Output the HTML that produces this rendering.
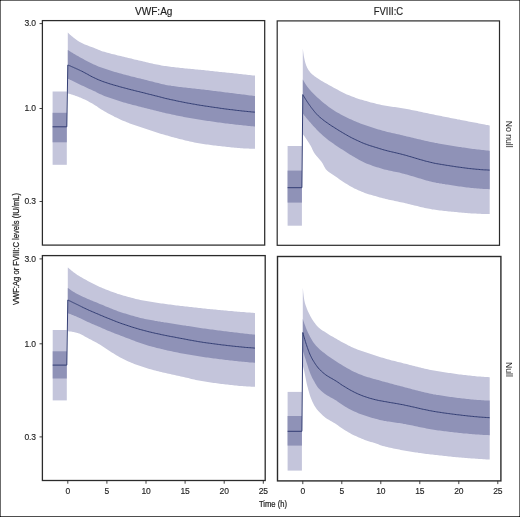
<!DOCTYPE html>
<html lang="en">
<head>
<meta charset="utf-8">
<title>VWF:Ag and FVIII:C levels over time</title>
<style>
html,body{margin:0;padding:0;background:#fff;}
body{width:520px;height:517px;overflow:hidden;}
#fig{position:relative;width:520px;height:517px;background:#fff;overflow:hidden;}
#fig svg{position:absolute;left:0;top:0;display:block;will-change:transform;}
text{font-family:"Liberation Sans",sans-serif;fill:#232323;stroke:#232323;stroke-width:0.22px;}
.tk{font-size:8.5px;stroke-width:0.14px;letter-spacing:-0.14px;}
.ti{font-size:10px;stroke-width:0.16px;}
.st{font-size:8.7px;stroke:none;}
.ax{font-size:10px;stroke-width:0.25px;}
.ay{font-size:9.6px;}
</style>
</head>
<body>
<div id="fig">
<svg width="520" height="517" viewBox="0 0 520 517">
<g>
<rect x="52.6" y="91.5" width="14.2" height="73.3" fill="#c4c5db"/>
<rect x="52.6" y="112.8" width="14.2" height="29.5" fill="#8f92b7"/>
<polygon fill="#c4c5db" points="67.8,32.6 68.3,33.1 68.8,33.5 69.3,34 69.8,34.4 70.3,34.9 70.8,35.3 71.3,35.7 71.8,36.2 72.3,36.6 72.8,37 73.3,37.4 73.8,37.8 74.3,38.2 74.8,38.6 75.3,39 75.8,39.3 76.3,39.7 76.8,40 77.3,40.4 77.8,40.7 78.3,41 78.8,41.4 79.3,41.7 79.8,42 80.3,42.3 80.8,42.5 81.3,42.8 81.8,43.1 83.3,43.8 84.8,44.4 86.3,45.1 87.8,45.6 89.3,46.2 90.8,46.7 92.3,47.3 93.8,47.8 95.3,48.4 96.8,49 98.3,49.7 99.8,50.3 101.3,50.9 102.8,51.4 104.3,51.8 105.8,52.3 107.3,52.7 108.8,53.1 110.3,53.5 111.8,53.9 113.3,54.3 114.8,54.6 116.3,55 117.8,55.4 119.3,55.7 120.8,56.1 122.3,56.4 123.8,56.8 125.3,57.2 126.8,57.5 128.3,57.9 129.8,58.3 131.3,58.6 132.8,59 134.3,59.4 135.8,59.7 137.3,60.1 138.8,60.4 140.3,60.8 141.8,61.1 143.3,61.5 144.8,61.8 146.3,62.2 147.8,62.5 149.3,62.9 150.8,63.2 152.3,63.6 153.8,63.9 155.3,64.2 156.8,64.5 158.3,64.8 159.8,65.1 161.3,65.4 162.8,65.7 164.3,65.9 165.8,66.1 167.3,66.3 168.8,66.5 170.3,66.7 171.8,66.9 173.3,67.1 174.8,67.2 176.3,67.4 177.8,67.6 179.3,67.7 180.8,67.9 182.3,68.1 183.8,68.2 185.3,68.4 186.8,68.5 188.3,68.7 189.8,68.8 191.3,68.9 192.8,69.1 194.3,69.2 195.8,69.4 197.3,69.5 198.8,69.7 200.3,69.8 201.8,70 203.3,70.1 204.8,70.3 206.3,70.4 207.8,70.6 209.3,70.8 210.8,70.9 212.3,71.1 213.8,71.2 215.3,71.4 216.8,71.6 218.3,71.7 219.8,71.9 221.3,72 222.8,72.2 224.3,72.3 225.8,72.5 227.3,72.7 228.8,72.8 230.3,73 231.8,73.1 233.3,73.3 234.8,73.5 236.3,73.6 237.8,73.8 239.3,73.9 240.8,74.1 242.3,74.3 243.8,74.4 245.3,74.6 246.8,74.7 248.3,74.9 249.8,75 251.3,75.2 252.8,75.4 254.3,75.5 255,75.6 255,148.8 254.3,148.8 252.8,148.8 251.3,148.7 249.8,148.7 248.3,148.6 246.8,148.5 245.3,148.5 243.8,148.4 242.3,148.3 240.8,148.2 239.3,148.1 237.8,147.9 236.3,147.8 234.8,147.7 233.3,147.6 231.8,147.4 230.3,147.3 228.8,147.1 227.3,147 225.8,146.8 224.3,146.6 222.8,146.5 221.3,146.3 219.8,146.1 218.3,145.9 216.8,145.7 215.3,145.5 213.8,145.4 212.3,145.2 210.8,145 209.3,144.8 207.8,144.6 206.3,144.4 204.8,144.2 203.3,144 201.8,143.7 200.3,143.5 198.8,143.2 197.3,143 195.8,142.7 194.3,142.4 192.8,142.1 191.3,141.7 189.8,141.4 188.3,141.1 186.8,140.7 185.3,140.4 183.8,140 182.3,139.6 180.8,139.2 179.3,138.9 177.8,138.5 176.3,138.1 174.8,137.7 173.3,137.3 171.8,136.9 170.3,136.5 168.8,136.1 167.3,135.6 165.8,135.2 164.3,134.8 162.8,134.3 161.3,133.9 159.8,133.4 158.3,132.9 156.8,132.4 155.3,132 153.8,131.5 152.3,131 150.8,130.5 149.3,130 147.8,129.5 146.3,129 144.8,128.5 143.3,128 141.8,127.5 140.3,127 138.8,126.5 137.3,126 135.8,125.5 134.3,125 132.8,124.4 131.3,123.9 129.8,123.4 128.3,122.8 126.8,122.2 125.3,121.6 123.8,121 122.3,120.4 120.8,119.7 119.3,119 117.8,118.3 116.3,117.6 114.8,116.9 113.3,116.1 111.8,115.3 110.3,114.5 108.8,113.7 107.3,112.9 105.8,112 104.3,111.2 102.8,110.3 101.3,109.4 99.8,108.4 98.3,107.4 96.8,106.3 95.3,105.4 93.8,104.5 92.3,103.6 90.8,102.8 89.3,101.9 87.8,101.1 86.3,100.3 84.8,99.6 83.3,98.9 81.8,98.2 81.3,98 80.8,97.8 80.3,97.6 79.8,97.4 79.3,97.2 78.8,97 78.3,96.8 77.8,96.6 77.3,96.4 76.8,96.2 76.3,96 75.8,95.9 75.3,95.7 74.8,95.5 74.3,95.3 73.8,95.2 73.3,95 72.8,94.8 72.3,94.7 71.8,94.5 71.3,94.4 70.8,94.2 70.3,94.1 69.8,93.9 69.3,93.8 68.8,93.7 68.3,93.5 67.8,93.4"/>
<polygon fill="#8f92b7" points="67.8,50 68.3,50.3 68.8,50.6 69.3,50.9 69.8,51.3 70.3,51.6 70.8,51.9 71.3,52.2 71.8,52.5 72.3,52.8 72.8,53.1 73.3,53.4 73.8,53.7 74.3,54 74.8,54.3 75.3,54.6 75.8,54.9 76.3,55.2 76.8,55.5 77.3,55.8 77.8,56 78.3,56.3 78.8,56.6 79.3,56.9 79.8,57.2 80.3,57.4 80.8,57.7 81.3,58 81.8,58.3 83.3,59.1 84.8,59.9 86.3,60.7 87.8,61.5 89.3,62.3 90.8,63 92.3,63.8 93.8,64.5 95.3,65.1 96.8,65.8 98.3,66.4 99.8,67 101.3,67.5 102.8,68.1 104.3,68.6 105.8,69.1 107.3,69.6 108.8,70.1 110.3,70.5 111.8,71 113.3,71.4 114.8,71.9 116.3,72.3 117.8,72.7 119.3,73.2 120.8,73.6 122.3,74 123.8,74.4 125.3,74.8 126.8,75.2 128.3,75.6 129.8,76 131.3,76.4 132.8,76.7 134.3,77.1 135.8,77.5 137.3,77.9 138.8,78.2 140.3,78.6 141.8,79 143.3,79.3 144.8,79.7 146.3,80.1 147.8,80.5 149.3,80.9 150.8,81.3 152.3,81.6 153.8,82 155.3,82.4 156.8,82.8 158.3,83.1 159.8,83.5 161.3,83.9 162.8,84.2 164.3,84.6 165.8,84.9 167.3,85.2 168.8,85.4 170.3,85.6 171.8,85.9 173.3,86.1 174.8,86.3 176.3,86.5 177.8,86.7 179.3,86.9 180.8,87.1 182.3,87.2 183.8,87.4 185.3,87.6 186.8,87.8 188.3,87.9 189.8,88.1 191.3,88.3 192.8,88.4 194.3,88.6 195.8,88.7 197.3,88.9 198.8,89.1 200.3,89.2 201.8,89.4 203.3,89.6 204.8,89.8 206.3,90 207.8,90.1 209.3,90.3 210.8,90.5 212.3,90.7 213.8,90.9 215.3,91.1 216.8,91.3 218.3,91.5 219.8,91.6 221.3,91.8 222.8,92 224.3,92.2 225.8,92.4 227.3,92.6 228.8,92.8 230.3,92.9 231.8,93.1 233.3,93.3 234.8,93.5 236.3,93.7 237.8,93.9 239.3,94.1 240.8,94.2 242.3,94.4 243.8,94.6 245.3,94.8 246.8,95 248.3,95.2 249.8,95.4 251.3,95.5 252.8,95.7 254.3,95.9 255,96 255,126.5 254.3,126.4 252.8,126.3 251.3,126.2 249.8,126 248.3,125.9 246.8,125.8 245.3,125.6 243.8,125.5 242.3,125.3 240.8,125.1 239.3,125 237.8,124.8 236.3,124.7 234.8,124.5 233.3,124.3 231.8,124.1 230.3,123.9 228.8,123.8 227.3,123.6 225.8,123.4 224.3,123.2 222.8,123 221.3,122.8 219.8,122.6 218.3,122.4 216.8,122.2 215.3,122 213.8,121.8 212.3,121.6 210.8,121.3 209.3,121.1 207.8,120.9 206.3,120.7 204.8,120.5 203.3,120.2 201.8,120 200.3,119.8 198.8,119.5 197.3,119.3 195.8,119 194.3,118.8 192.8,118.5 191.3,118.3 189.8,118 188.3,117.7 186.8,117.4 185.3,117.2 183.8,116.9 182.3,116.6 180.8,116.3 179.3,116 177.8,115.7 176.3,115.4 174.8,115.1 173.3,114.8 171.8,114.5 170.3,114.1 168.8,113.8 167.3,113.5 165.8,113.2 164.3,112.8 162.8,112.5 161.3,112.1 159.8,111.7 158.3,111.3 156.8,111 155.3,110.6 153.8,110.2 152.3,109.8 150.8,109.5 149.3,109.1 147.8,108.7 146.3,108.3 144.8,107.9 143.3,107.5 141.8,107.2 140.3,106.8 138.8,106.4 137.3,106 135.8,105.6 134.3,105.3 132.8,104.9 131.3,104.5 129.8,104.1 128.3,103.7 126.8,103.3 125.3,102.8 123.8,102.4 122.3,102 120.8,101.5 119.3,101 117.8,100.6 116.3,100.1 114.8,99.6 113.3,99.1 111.8,98.6 110.3,98.1 108.8,97.6 107.3,97 105.8,96.5 104.3,95.9 102.8,95.3 101.3,94.6 99.8,93.9 98.3,93.2 96.8,92.4 95.3,91.6 93.8,90.9 92.3,90.2 90.8,89.6 89.3,88.9 87.8,88.2 86.3,87.5 84.8,86.8 83.3,86.1 81.8,85.4 81.3,85.2 80.8,85 80.3,84.7 79.8,84.5 79.3,84.2 78.8,84 78.3,83.8 77.8,83.5 77.3,83.3 76.8,83 76.3,82.8 75.8,82.6 75.3,82.3 74.8,82.1 74.3,81.8 73.8,81.6 73.3,81.3 72.8,81.1 72.3,80.8 71.8,80.6 71.3,80.3 70.8,80.1 70.3,79.9 69.8,79.6 69.3,79.4 68.8,79.1 68.3,78.9 67.8,78.6"/>
<polyline fill="none" stroke="#323d73" stroke-width="1.0" stroke-linejoin="round" points="52.6,126.8 66.8,126.8 67.8,65 68.3,65.2 68.8,65.4 69.3,65.6 69.8,65.8 70.3,66 70.8,66.2 71.3,66.5 71.8,66.7 72.3,66.9 72.8,67.1 73.3,67.3 73.8,67.5 74.3,67.8 74.8,68 75.3,68.2 75.8,68.4 76.3,68.7 76.8,68.9 77.3,69.1 77.8,69.3 78.3,69.6 78.8,69.8 79.3,70 79.8,70.3 80.3,70.5 80.8,70.8 81.3,71 81.8,71.2 83.3,72 84.8,72.8 86.3,73.6 87.8,74.4 89.3,75.3 90.8,76.1 92.3,76.9 93.8,77.6 95.3,78.3 96.8,79 98.3,79.7 99.8,80.3 101.3,80.9 102.8,81.5 104.3,82 105.8,82.5 107.3,83 108.8,83.5 110.3,84 111.8,84.4 113.3,84.9 114.8,85.3 116.3,85.7 117.8,86.1 119.3,86.6 120.8,87 122.3,87.4 123.8,87.8 125.3,88.2 126.8,88.6 128.3,89 129.8,89.4 131.3,89.8 132.8,90.1 134.3,90.5 135.8,90.9 137.3,91.3 138.8,91.6 140.3,92 141.8,92.4 143.3,92.7 144.8,93.1 146.3,93.5 147.8,93.9 149.3,94.3 150.8,94.6 152.3,95 153.8,95.4 155.3,95.8 156.8,96.1 158.3,96.5 159.8,96.9 161.3,97.3 162.8,97.7 164.3,98.1 165.8,98.5 167.3,98.8 168.8,99.1 170.3,99.5 171.8,99.8 173.3,100.1 174.8,100.4 176.3,100.8 177.8,101.1 179.3,101.4 180.8,101.7 182.3,102 183.8,102.3 185.3,102.6 186.8,102.9 188.3,103.2 189.8,103.4 191.3,103.7 192.8,104 194.3,104.2 195.8,104.5 197.3,104.8 198.8,105 200.3,105.3 201.8,105.5 203.3,105.7 204.8,106 206.3,106.2 207.8,106.4 209.3,106.6 210.8,106.9 212.3,107.1 213.8,107.3 215.3,107.5 216.8,107.7 218.3,107.9 219.8,108.2 221.3,108.4 222.8,108.6 224.3,108.8 225.8,109 227.3,109.2 228.8,109.4 230.3,109.6 231.8,109.7 233.3,109.9 234.8,110.1 236.3,110.3 237.8,110.5 239.3,110.6 240.8,110.8 242.3,111 243.8,111.1 245.3,111.3 246.8,111.4 248.3,111.6 249.8,111.7 251.3,111.9 252.8,112 254.3,112.1 255,112.2"/>
<rect x="42.4" y="20.6" width="222.3" height="224.5" fill="none" stroke="#2b2b2b" stroke-width="1.25"/>
</g>
<g>
<rect x="287.6" y="146" width="14.3" height="79.7" fill="#c4c5db"/>
<rect x="287.6" y="170.6" width="14.3" height="32" fill="#8f92b7"/>
<polygon fill="#c4c5db" points="302.8,48.5 303.3,52.4 303.8,55.9 304.3,58.6 304.8,60.8 305.3,62.7 305.8,64.3 306.3,65.7 306.8,66.8 307.3,67.9 307.8,68.8 308.3,69.7 308.8,70.4 309.3,71.1 309.8,71.8 310.3,72.4 310.8,72.9 311.3,73.4 311.8,73.9 312.3,74.4 312.8,74.8 313.3,75.3 313.8,75.6 314.3,76 314.8,76.4 315.3,76.8 315.8,77.1 316.3,77.5 316.8,77.8 318.3,78.8 319.8,79.8 321.3,80.7 322.8,81.6 324.3,82.4 325.8,83.3 327.3,84.1 328.8,85 330.3,85.8 331.8,86.6 333.3,87.4 334.8,88.2 336.3,89 337.8,89.8 339.3,90.7 340.8,91.5 342.3,92.3 343.8,93 345.3,93.7 346.8,94.4 348.3,95 349.8,95.6 351.3,96.2 352.8,96.8 354.3,97.3 355.8,97.9 357.3,98.4 358.8,98.9 360.3,99.4 361.8,99.8 363.3,100.3 364.8,100.7 366.3,101.1 367.8,101.6 369.3,102 370.8,102.4 372.3,102.8 373.8,103.1 375.3,103.5 376.8,103.9 378.3,104.2 379.8,104.6 381.3,104.9 382.8,105.3 384.3,105.6 385.8,105.8 387.3,106.1 388.8,106.3 390.3,106.5 391.8,106.7 393.3,106.9 394.8,107.1 396.3,107.3 397.8,107.5 399.3,107.7 400.8,107.9 402.3,108.2 403.8,108.4 405.3,108.7 406.8,109 408.3,109.3 409.8,109.6 411.3,109.9 412.8,110.2 414.3,110.5 415.8,110.8 417.3,111.1 418.8,111.4 420.3,111.7 421.8,112.1 423.3,112.4 424.8,112.7 426.3,113 427.8,113.3 429.3,113.7 430.8,114 432.3,114.3 433.8,114.6 435.3,114.9 436.8,115.2 438.3,115.5 439.8,115.8 441.3,116.1 442.8,116.4 444.3,116.7 445.8,117 447.3,117.3 448.8,117.6 450.3,117.9 451.8,118.2 453.3,118.5 454.8,118.8 456.3,119.1 457.8,119.4 459.3,119.6 460.8,119.9 462.3,120.2 463.8,120.5 465.3,120.8 466.8,121.1 468.3,121.4 469.8,121.7 471.3,122 472.8,122.3 474.3,122.6 475.8,122.8 477.3,123.1 478.8,123.4 480.3,123.7 481.8,124 483.3,124.3 484.8,124.6 486.3,124.9 487.8,125.1 489.3,125.4 489.7,125.5 489.7,214 489.3,214 487.8,214 486.3,214 484.8,214 483.3,213.9 481.8,213.9 480.3,213.8 478.8,213.8 477.3,213.7 475.8,213.6 474.3,213.5 472.8,213.5 471.3,213.4 469.8,213.3 468.3,213.2 466.8,213.1 465.3,212.9 463.8,212.8 462.3,212.7 460.8,212.6 459.3,212.4 457.8,212.3 456.3,212.1 454.8,212 453.3,211.8 451.8,211.7 450.3,211.5 448.8,211.4 447.3,211.2 445.8,211 444.3,210.9 442.8,210.7 441.3,210.5 439.8,210.4 438.3,210.2 436.8,210 435.3,209.8 433.8,209.6 432.3,209.4 430.8,209.1 429.3,208.8 427.8,208.5 426.3,208.2 424.8,207.9 423.3,207.6 421.8,207.2 420.3,206.9 418.8,206.5 417.3,206.1 415.8,205.8 414.3,205.4 412.8,205 411.3,204.7 409.8,204.3 408.3,203.9 406.8,203.6 405.3,203.2 403.8,202.8 402.3,202.5 400.8,202.2 399.3,201.9 397.8,201.5 396.3,201.2 394.8,200.9 393.3,200.6 391.8,200.3 390.3,200 388.8,199.7 387.3,199.3 385.8,199 384.3,198.6 382.8,198.2 381.3,197.8 379.8,197.4 378.3,197 376.8,196.5 375.3,196.1 373.8,195.7 372.3,195.2 370.8,194.8 369.3,194.4 367.8,193.9 366.3,193.4 364.8,192.9 363.3,192.3 361.8,191.8 360.3,191.1 358.8,190.5 357.3,189.8 355.8,189.1 354.3,188.4 352.8,187.6 351.3,186.8 349.8,185.9 348.3,185 346.8,184.1 345.3,183.2 343.8,182.2 342.3,181.2 340.8,180.2 339.3,179.2 337.8,178.1 336.3,177 334.8,176 333.3,174.9 331.8,173.9 330.3,172.9 328.8,171.9 327.3,170.8 325.8,169.3 324.3,166.8 322.8,163.8 321.3,161.6 319.8,159.8 318.3,158 316.8,156.3 316.3,155.7 315.8,155.1 315.3,154.5 314.8,153.8 314.3,153 313.8,152.2 313.3,151.3 312.8,150.3 312.3,149.2 311.8,148.1 311.3,147.1 310.8,146.1 310.3,145.3 309.8,144.4 309.3,143.6 308.8,142.8 308.3,142 307.8,141.2 307.3,140.5 306.8,139.7 306.3,139 305.8,138.2 305.3,137.5 304.8,136.8 304.3,136.1 303.8,135.4 303.3,134.7 302.8,134"/>
<polygon fill="#8f92b7" points="302.8,79.4 303.3,80.3 303.8,81.2 304.3,82.1 304.8,82.9 305.3,83.7 305.8,84.5 306.3,85.3 306.8,86 307.3,86.7 307.8,87.3 308.3,88 308.8,88.6 309.3,89.2 309.8,89.8 310.3,90.3 310.8,90.9 311.3,91.5 311.8,92 312.3,92.5 312.8,93 313.3,93.6 313.8,94.1 314.3,94.6 314.8,95.1 315.3,95.5 315.8,96 316.3,96.5 316.8,96.9 318.3,98.3 319.8,99.6 321.3,100.9 322.8,102.2 324.3,103.4 325.8,104.6 327.3,105.8 328.8,106.9 330.3,108 331.8,109.1 333.3,110.1 334.8,111 336.3,111.9 337.8,112.8 339.3,113.6 340.8,114.4 342.3,115.2 343.8,116 345.3,116.8 346.8,117.5 348.3,118.2 349.8,118.9 351.3,119.6 352.8,120.3 354.3,120.9 355.8,121.6 357.3,122.2 358.8,122.8 360.3,123.4 361.8,124 363.3,124.5 364.8,125.1 366.3,125.6 367.8,126.1 369.3,126.6 370.8,127.1 372.3,127.6 373.8,128 375.3,128.5 376.8,128.9 378.3,129.4 379.8,129.8 381.3,130.3 382.8,130.7 384.3,131.1 385.8,131.5 387.3,131.9 388.8,132.2 390.3,132.6 391.8,132.9 393.3,133.3 394.8,133.6 396.3,134 397.8,134.3 399.3,134.6 400.8,135 402.3,135.3 403.8,135.7 405.3,136 406.8,136.4 408.3,136.8 409.8,137.1 411.3,137.5 412.8,137.8 414.3,138.2 415.8,138.6 417.3,138.9 418.8,139.3 420.3,139.6 421.8,140 423.3,140.3 424.8,140.7 426.3,141 427.8,141.3 429.3,141.7 430.8,142 432.3,142.3 433.8,142.6 435.3,142.9 436.8,143.1 438.3,143.4 439.8,143.7 441.3,143.9 442.8,144.2 444.3,144.5 445.8,144.7 447.3,145 448.8,145.2 450.3,145.5 451.8,145.7 453.3,146 454.8,146.2 456.3,146.4 457.8,146.7 459.3,146.9 460.8,147.1 462.3,147.4 463.8,147.6 465.3,147.8 466.8,148 468.3,148.2 469.8,148.4 471.3,148.7 472.8,148.9 474.3,149 475.8,149.2 477.3,149.4 478.8,149.6 480.3,149.8 481.8,150 483.3,150.1 484.8,150.3 486.3,150.5 487.8,150.6 489.3,150.8 489.7,150.8 489.7,189.2 489.3,189.2 487.8,189.1 486.3,189.1 484.8,189 483.3,188.9 481.8,188.8 480.3,188.7 478.8,188.6 477.3,188.5 475.8,188.3 474.3,188.2 472.8,188 471.3,187.9 469.8,187.7 468.3,187.6 466.8,187.4 465.3,187.2 463.8,187 462.3,186.8 460.8,186.6 459.3,186.4 457.8,186.2 456.3,186 454.8,185.8 453.3,185.5 451.8,185.3 450.3,185.1 448.8,184.8 447.3,184.6 445.8,184.4 444.3,184.1 442.8,183.9 441.3,183.6 439.8,183.4 438.3,183.1 436.8,182.9 435.3,182.6 433.8,182.2 432.3,181.9 430.8,181.6 429.3,181.2 427.8,180.8 426.3,180.4 424.8,180 423.3,179.5 421.8,179.1 420.3,178.6 418.8,178.2 417.3,177.7 415.8,177.3 414.3,176.8 412.8,176.3 411.3,175.9 409.8,175.4 408.3,175 406.8,174.6 405.3,174.2 403.8,173.8 402.3,173.4 400.8,173 399.3,172.6 397.8,172.3 396.3,172 394.8,171.7 393.3,171.4 391.8,171.1 390.3,170.8 388.8,170.5 387.3,170.1 385.8,169.8 384.3,169.4 382.8,169 381.3,168.6 379.8,168.1 378.3,167.6 376.8,167.2 375.3,166.7 373.8,166.2 372.3,165.7 370.8,165.1 369.3,164.6 367.8,164 366.3,163.4 364.8,162.8 363.3,162.1 361.8,161.3 360.3,160.5 358.8,159.7 357.3,158.8 355.8,157.9 354.3,157.1 352.8,156.2 351.3,155.3 349.8,154.4 348.3,153.5 346.8,152.5 345.3,151.6 343.8,150.6 342.3,149.6 340.8,148.7 339.3,147.7 337.8,146.7 336.3,145.7 334.8,144.7 333.3,143.6 331.8,142.6 330.3,141.5 328.8,140.4 327.3,139.2 325.8,138 324.3,136.8 322.8,135.5 321.3,134.1 319.8,132.7 318.3,131.2 316.8,129.7 316.3,129.2 315.8,128.6 315.3,128.1 314.8,127.6 314.3,127 313.8,126.5 313.3,125.9 312.8,125.4 312.3,124.8 311.8,124.3 311.3,123.7 310.8,123.1 310.3,122.6 309.8,122 309.3,121.4 308.8,120.8 308.3,120.2 307.8,119.7 307.3,119.1 306.8,118.5 306.3,117.9 305.8,117.2 305.3,116.6 304.8,116 304.3,115.4 303.8,114.8 303.3,114.1 302.8,113.5"/>
<polyline fill="none" stroke="#323d73" stroke-width="1.0" stroke-linejoin="round" points="287.6,187.7 301.9,187.7 302.8,94.6 303.3,95.5 303.8,96.3 304.3,97.1 304.8,97.9 305.3,98.8 305.8,99.6 306.3,100.3 306.8,101.1 307.3,101.9 307.8,102.6 308.3,103.4 308.8,104.1 309.3,104.8 309.8,105.5 310.3,106.2 310.8,106.9 311.3,107.6 311.8,108.2 312.3,108.9 312.8,109.5 313.3,110.1 313.8,110.8 314.3,111.4 314.8,112 315.3,112.6 315.8,113.2 316.3,113.7 316.8,114.3 318.3,115.8 319.8,117.2 321.3,118.4 322.8,119.6 324.3,120.8 325.8,121.9 327.3,122.9 328.8,124 330.3,125 331.8,126 333.3,126.9 334.8,127.9 336.3,128.8 337.8,129.8 339.3,130.7 340.8,131.6 342.3,132.5 343.8,133.4 345.3,134.3 346.8,135.1 348.3,136 349.8,136.8 351.3,137.6 352.8,138.4 354.3,139.1 355.8,139.8 357.3,140.5 358.8,141.2 360.3,141.9 361.8,142.6 363.3,143.2 364.8,143.8 366.3,144.3 367.8,144.9 369.3,145.4 370.8,145.9 372.3,146.3 373.8,146.8 375.3,147.3 376.8,147.7 378.3,148.2 379.8,148.7 381.3,149.1 382.8,149.6 384.3,150 385.8,150.4 387.3,150.8 388.8,151.2 390.3,151.5 391.8,151.9 393.3,152.2 394.8,152.6 396.3,152.9 397.8,153.3 399.3,153.6 400.8,154 402.3,154.4 403.8,154.8 405.3,155.2 406.8,155.6 408.3,156.1 409.8,156.5 411.3,156.9 412.8,157.4 414.3,157.8 415.8,158.3 417.3,158.7 418.8,159.2 420.3,159.6 421.8,160 423.3,160.4 424.8,160.9 426.3,161.3 427.8,161.6 429.3,162 430.8,162.4 432.3,162.7 433.8,163.1 435.3,163.4 436.8,163.7 438.3,163.9 439.8,164.2 441.3,164.4 442.8,164.7 444.3,164.9 445.8,165.2 447.3,165.4 448.8,165.6 450.3,165.9 451.8,166.1 453.3,166.3 454.8,166.6 456.3,166.8 457.8,167 459.3,167.2 460.8,167.4 462.3,167.6 463.8,167.8 465.3,168 466.8,168.2 468.3,168.4 469.8,168.6 471.3,168.7 472.8,168.9 474.3,169 475.8,169.2 477.3,169.3 478.8,169.4 480.3,169.6 481.8,169.7 483.3,169.8 484.8,169.9 486.3,169.9 487.8,170 489.3,170.1 489.7,170.1"/>
<rect x="277.2" y="20.9" width="222.3" height="224.4" fill="none" stroke="#2b2b2b" stroke-width="1.2"/>
</g>
<g>
<rect x="52.7" y="330" width="14.1" height="70.4" fill="#c4c5db"/>
<rect x="52.7" y="351.3" width="14.1" height="27.2" fill="#8f92b7"/>
<polygon fill="#c4c5db" points="67.8,267.4 68.3,267.8 68.8,268.3 69.3,268.7 69.8,269.1 70.3,269.6 70.8,270 71.3,270.4 71.8,270.8 72.3,271.2 72.8,271.6 73.3,272 73.8,272.4 74.3,272.8 74.8,273.1 75.3,273.5 75.8,273.8 76.3,274.2 76.8,274.5 77.3,274.9 77.8,275.2 78.3,275.5 78.8,275.8 79.3,276.1 79.8,276.4 80.3,276.7 80.8,277 81.3,277.3 81.8,277.6 83.3,278.5 84.8,279.3 86.3,280.1 87.8,280.9 89.3,281.7 90.8,282.5 92.3,283.3 93.8,284.1 95.3,284.8 96.8,285.5 98.3,286.2 99.8,286.9 101.3,287.6 102.8,288.2 104.3,288.8 105.8,289.4 107.3,290 108.8,290.6 110.3,291.2 111.8,291.7 113.3,292.3 114.8,292.8 116.3,293.3 117.8,293.9 119.3,294.3 120.8,294.8 122.3,295.3 123.8,295.7 125.3,296.1 126.8,296.5 128.3,296.9 129.8,297.3 131.3,297.7 132.8,298.1 134.3,298.5 135.8,298.9 137.3,299.2 138.8,299.6 140.3,299.9 141.8,300.2 143.3,300.5 144.8,300.8 146.3,301.1 147.8,301.3 149.3,301.6 150.8,301.8 152.3,302.1 153.8,302.3 155.3,302.5 156.8,302.8 158.3,303 159.8,303.2 161.3,303.4 162.8,303.6 164.3,303.8 165.8,304 167.3,304.2 168.8,304.4 170.3,304.6 171.8,304.8 173.3,305 174.8,305.2 176.3,305.4 177.8,305.5 179.3,305.7 180.8,305.9 182.3,306.1 183.8,306.3 185.3,306.4 186.8,306.6 188.3,306.8 189.8,307 191.3,307.1 192.8,307.3 194.3,307.5 195.8,307.6 197.3,307.8 198.8,308 200.3,308.1 201.8,308.3 203.3,308.4 204.8,308.6 206.3,308.7 207.8,308.9 209.3,309 210.8,309.2 212.3,309.3 213.8,309.5 215.3,309.6 216.8,309.8 218.3,309.9 219.8,310 221.3,310.2 222.8,310.3 224.3,310.5 225.8,310.6 227.3,310.7 228.8,310.9 230.3,311 231.8,311.1 233.3,311.3 234.8,311.4 236.3,311.5 237.8,311.7 239.3,311.8 240.8,311.9 242.3,312 243.8,312.1 245.3,312.3 246.8,312.4 248.3,312.5 249.8,312.6 251.3,312.7 252.8,312.8 254.3,312.9 255,313 255,386.8 254.3,386.8 252.8,386.7 251.3,386.7 249.8,386.6 248.3,386.5 246.8,386.4 245.3,386.3 243.8,386.2 242.3,386.1 240.8,386 239.3,385.9 237.8,385.7 236.3,385.6 234.8,385.4 233.3,385.3 231.8,385.1 230.3,385 228.8,384.8 227.3,384.6 225.8,384.4 224.3,384.3 222.8,384.1 221.3,383.9 219.8,383.7 218.3,383.5 216.8,383.3 215.3,383.1 213.8,382.9 212.3,382.7 210.8,382.4 209.3,382.2 207.8,382 206.3,381.8 204.8,381.6 203.3,381.3 201.8,381.1 200.3,380.8 198.8,380.5 197.3,380.2 195.8,379.9 194.3,379.5 192.8,379.2 191.3,378.9 189.8,378.5 188.3,378.1 186.8,377.8 185.3,377.4 183.8,377.1 182.3,376.7 180.8,376.4 179.3,376 177.8,375.7 176.3,375.4 174.8,375.1 173.3,374.7 171.8,374.4 170.3,374.1 168.8,373.8 167.3,373.4 165.8,373.1 164.3,372.8 162.8,372.4 161.3,372.1 159.8,371.7 158.3,371.3 156.8,371 155.3,370.6 153.8,370.2 152.3,369.8 150.8,369.3 149.3,368.9 147.8,368.5 146.3,368 144.8,367.5 143.3,367.1 141.8,366.6 140.3,366.1 138.8,365.5 137.3,365 135.8,364.5 134.3,363.9 132.8,363.3 131.3,362.7 129.8,362.1 128.3,361.4 126.8,360.7 125.3,360 123.8,359.3 122.3,358.5 120.8,357.7 119.3,356.9 117.8,356 116.3,355.2 114.8,354.3 113.3,353.3 111.8,352.4 110.3,351.4 108.8,350.5 107.3,349.5 105.8,348.5 104.3,347.5 102.8,346.5 101.3,345.5 99.8,344.6 98.3,343.7 96.8,342.8 95.3,342 93.8,341.2 92.3,340.4 90.8,339.6 89.3,338.9 87.8,338.1 86.3,337.3 84.8,336.5 83.3,335.6 81.8,334.8 81.3,334.5 80.8,334.3 80.3,334.1 79.8,333.8 79.3,333.6 78.8,333.4 78.3,333.2 77.8,333.1 77.3,332.9 76.8,332.8 76.3,332.7 75.8,332.5 75.3,332.4 74.8,332.3 74.3,332.2 73.8,332.1 73.3,332 72.8,331.9 72.3,331.8 71.8,331.7 71.3,331.6 70.8,331.5 70.3,331.5 69.8,331.4 69.3,331.4 68.8,331.3 68.3,331.3 67.8,331.3"/>
<polygon fill="#8f92b7" points="67.8,287.9 68.3,288.3 68.8,288.6 69.3,289 69.8,289.3 70.3,289.7 70.8,290 71.3,290.4 71.8,290.7 72.3,291 72.8,291.4 73.3,291.7 73.8,292 74.3,292.3 74.8,292.6 75.3,292.9 75.8,293.2 76.3,293.5 76.8,293.7 77.3,294 77.8,294.3 78.3,294.5 78.8,294.8 79.3,295 79.8,295.3 80.3,295.5 80.8,295.8 81.3,296 81.8,296.2 83.3,296.9 84.8,297.6 86.3,298.2 87.8,298.9 89.3,299.5 90.8,300.2 92.3,300.8 93.8,301.4 95.3,302 96.8,302.6 98.3,303.2 99.8,303.9 101.3,304.5 102.8,305.1 104.3,305.7 105.8,306.4 107.3,307 108.8,307.6 110.3,308.2 111.8,308.8 113.3,309.4 114.8,310 116.3,310.6 117.8,311.2 119.3,311.7 120.8,312.2 122.3,312.7 123.8,313.2 125.3,313.6 126.8,314 128.3,314.5 129.8,314.9 131.3,315.4 132.8,315.8 134.3,316.3 135.8,316.7 137.3,317.1 138.8,317.5 140.3,317.9 141.8,318.3 143.3,318.6 144.8,318.9 146.3,319.2 147.8,319.5 149.3,319.8 150.8,320 152.3,320.3 153.8,320.6 155.3,320.9 156.8,321.1 158.3,321.4 159.8,321.6 161.3,321.9 162.8,322.1 164.3,322.4 165.8,322.6 167.3,322.8 168.8,323.1 170.3,323.3 171.8,323.5 173.3,323.8 174.8,324 176.3,324.2 177.8,324.5 179.3,324.7 180.8,324.9 182.3,325.2 183.8,325.4 185.3,325.6 186.8,325.9 188.3,326.1 189.8,326.3 191.3,326.6 192.8,326.8 194.3,327 195.8,327.3 197.3,327.5 198.8,327.7 200.3,327.9 201.8,328.2 203.3,328.4 204.8,328.6 206.3,328.8 207.8,329 209.3,329.2 210.8,329.4 212.3,329.6 213.8,329.8 215.3,330 216.8,330.2 218.3,330.4 219.8,330.6 221.3,330.8 222.8,331 224.3,331.2 225.8,331.3 227.3,331.5 228.8,331.7 230.3,331.9 231.8,332.1 233.3,332.3 234.8,332.5 236.3,332.6 237.8,332.8 239.3,333 240.8,333.2 242.3,333.3 243.8,333.5 245.3,333.7 246.8,333.8 248.3,334 249.8,334.2 251.3,334.3 252.8,334.5 254.3,334.6 255,334.7 255,362.8 254.3,362.7 252.8,362.6 251.3,362.5 249.8,362.4 248.3,362.3 246.8,362.1 245.3,362 243.8,361.8 242.3,361.7 240.8,361.6 239.3,361.4 237.8,361.2 236.3,361.1 234.8,360.9 233.3,360.8 231.8,360.6 230.3,360.4 228.8,360.3 227.3,360.1 225.8,359.9 224.3,359.7 222.8,359.5 221.3,359.3 219.8,359.2 218.3,359 216.8,358.8 215.3,358.6 213.8,358.4 212.3,358.2 210.8,358 209.3,357.8 207.8,357.6 206.3,357.4 204.8,357.2 203.3,357 201.8,356.7 200.3,356.5 198.8,356.3 197.3,356.1 195.8,355.8 194.3,355.6 192.8,355.3 191.3,355.1 189.8,354.8 188.3,354.5 186.8,354.3 185.3,354 183.8,353.7 182.3,353.4 180.8,353.2 179.3,352.9 177.8,352.6 176.3,352.3 174.8,352 173.3,351.7 171.8,351.3 170.3,351 168.8,350.7 167.3,350.4 165.8,350 164.3,349.7 162.8,349.3 161.3,349 159.8,348.6 158.3,348.2 156.8,347.9 155.3,347.5 153.8,347.1 152.3,346.7 150.8,346.3 149.3,345.9 147.8,345.4 146.3,345 144.8,344.5 143.3,344 141.8,343.6 140.3,343.1 138.8,342.5 137.3,342 135.8,341.4 134.3,340.8 132.8,340.2 131.3,339.7 129.8,339.1 128.3,338.5 126.8,338 125.3,337.4 123.8,336.8 122.3,336.3 120.8,335.7 119.3,335.1 117.8,334.5 116.3,334 114.8,333.4 113.3,332.8 111.8,332.2 110.3,331.6 108.8,331 107.3,330.4 105.8,329.7 104.3,329.1 102.8,328.4 101.3,327.8 99.8,327.1 98.3,326.4 96.8,325.8 95.3,325.2 93.8,324.5 92.3,323.9 90.8,323.2 89.3,322.6 87.8,321.9 86.3,321.2 84.8,320.5 83.3,319.8 81.8,319.1 81.3,318.8 80.8,318.6 80.3,318.3 79.8,318.1 79.3,317.9 78.8,317.6 78.3,317.4 77.8,317.2 77.3,317 76.8,316.8 76.3,316.5 75.8,316.3 75.3,316.1 74.8,315.9 74.3,315.7 73.8,315.5 73.3,315.3 72.8,315.1 72.3,314.9 71.8,314.7 71.3,314.5 70.8,314.3 70.3,314.1 69.8,313.9 69.3,313.8 68.8,313.6 68.3,313.4 67.8,313.2"/>
<polyline fill="none" stroke="#323d73" stroke-width="1.0" stroke-linejoin="round" points="52.7,365.1 66.8,365.1 67.8,300 68.3,300.2 68.8,300.5 69.3,300.7 69.8,301 70.3,301.2 70.8,301.4 71.3,301.7 71.8,301.9 72.3,302.2 72.8,302.4 73.3,302.7 73.8,302.9 74.3,303.1 74.8,303.4 75.3,303.6 75.8,303.9 76.3,304.1 76.8,304.4 77.3,304.6 77.8,304.8 78.3,305.1 78.8,305.3 79.3,305.6 79.8,305.8 80.3,306.1 80.8,306.3 81.3,306.6 81.8,306.8 83.3,307.6 84.8,308.3 86.3,309 87.8,309.7 89.3,310.4 90.8,311 92.3,311.7 93.8,312.3 95.3,313 96.8,313.6 98.3,314.2 99.8,314.9 101.3,315.5 102.8,316.1 104.3,316.8 105.8,317.4 107.3,318 108.8,318.6 110.3,319.2 111.8,319.8 113.3,320.4 114.8,321 116.3,321.6 117.8,322.2 119.3,322.7 120.8,323.3 122.3,323.8 123.8,324.3 125.3,324.8 126.8,325.3 128.3,325.8 129.8,326.3 131.3,326.8 132.8,327.3 134.3,327.7 135.8,328.2 137.3,328.6 138.8,329.1 140.3,329.5 141.8,329.9 143.3,330.3 144.8,330.7 146.3,331.1 147.8,331.5 149.3,331.9 150.8,332.2 152.3,332.6 153.8,332.9 155.3,333.3 156.8,333.6 158.3,333.9 159.8,334.2 161.3,334.6 162.8,334.9 164.3,335.2 165.8,335.5 167.3,335.8 168.8,336.1 170.3,336.4 171.8,336.7 173.3,336.9 174.8,337.2 176.3,337.5 177.8,337.8 179.3,338.1 180.8,338.4 182.3,338.6 183.8,338.9 185.3,339.2 186.8,339.5 188.3,339.8 189.8,340.1 191.3,340.3 192.8,340.6 194.3,340.9 195.8,341.1 197.3,341.4 198.8,341.7 200.3,341.9 201.8,342.1 203.3,342.4 204.8,342.6 206.3,342.8 207.8,343 209.3,343.2 210.8,343.4 212.3,343.6 213.8,343.8 215.3,344 216.8,344.2 218.3,344.4 219.8,344.6 221.3,344.8 222.8,345 224.3,345.1 225.8,345.3 227.3,345.5 228.8,345.7 230.3,345.8 231.8,346 233.3,346.2 234.8,346.3 236.3,346.5 237.8,346.6 239.3,346.8 240.8,346.9 242.3,347.1 243.8,347.2 245.3,347.4 246.8,347.5 248.3,347.6 249.8,347.7 251.3,347.8 252.8,347.9 254.3,348.1 255,348.1"/>
<rect x="42.4" y="255.6" width="222.8" height="224.9" fill="none" stroke="#2b2b2b" stroke-width="1.3"/>
</g>
<g>
<rect x="287.6" y="391.9" width="14.3" height="78.7" fill="#c4c5db"/>
<rect x="287.6" y="416" width="14.3" height="29.6" fill="#8f92b7"/>
<polygon fill="#c4c5db" points="302.8,287.8 303.3,292.7 303.8,297 304.3,300.2 304.8,302.4 305.3,304.2 305.8,305.7 306.3,307.1 306.8,308.4 307.3,309.7 307.8,310.9 308.3,312 308.8,313.1 309.3,314.1 309.8,315.1 310.3,316 310.8,316.9 311.3,317.8 311.8,318.7 312.3,319.5 312.8,320.3 313.3,321 313.8,321.8 314.3,322.5 314.8,323.1 315.3,323.8 315.8,324.5 316.3,325.1 316.8,325.7 318.3,327.3 319.8,328.6 321.3,329.7 322.8,330.7 324.3,331.6 325.8,332.6 327.3,333.5 328.8,334.5 330.3,335.4 331.8,336.2 333.3,337.1 334.8,338 336.3,338.8 337.8,339.7 339.3,340.6 340.8,341.4 342.3,342.2 343.8,343 345.3,343.8 346.8,344.6 348.3,345.4 349.8,346.1 351.3,346.9 352.8,347.6 354.3,348.2 355.8,348.8 357.3,349.4 358.8,349.9 360.3,350.4 361.8,350.9 363.3,351.4 364.8,351.9 366.3,352.4 367.8,352.9 369.3,353.4 370.8,353.9 372.3,354.4 373.8,354.9 375.3,355.4 376.8,355.9 378.3,356.4 379.8,356.9 381.3,357.4 382.8,357.8 384.3,358.3 385.8,358.7 387.3,359.2 388.8,359.6 390.3,360 391.8,360.4 393.3,360.7 394.8,361.1 396.3,361.5 397.8,361.9 399.3,362.2 400.8,362.6 402.3,363 403.8,363.4 405.3,363.7 406.8,364.1 408.3,364.5 409.8,364.9 411.3,365.3 412.8,365.7 414.3,366.1 415.8,366.5 417.3,366.8 418.8,367.2 420.3,367.6 421.8,367.9 423.3,368.3 424.8,368.7 426.3,369 427.8,369.3 429.3,369.7 430.8,370 432.3,370.3 433.8,370.5 435.3,370.8 436.8,371.1 438.3,371.3 439.8,371.5 441.3,371.8 442.8,372 444.3,372.2 445.8,372.5 447.3,372.7 448.8,372.9 450.3,373.1 451.8,373.3 453.3,373.6 454.8,373.8 456.3,374 457.8,374.2 459.3,374.4 460.8,374.6 462.3,374.8 463.8,374.9 465.3,375.1 466.8,375.3 468.3,375.5 469.8,375.6 471.3,375.8 472.8,375.9 474.3,376.1 475.8,376.2 477.3,376.4 478.8,376.5 480.3,376.6 481.8,376.7 483.3,376.8 484.8,376.9 486.3,377 487.8,377.1 489.3,377.2 489.7,377.2 489.7,459.5 489.3,459.5 487.8,459.4 486.3,459.4 484.8,459.3 483.3,459.2 481.8,459.1 480.3,459 478.8,458.9 477.3,458.8 475.8,458.7 474.3,458.6 472.8,458.5 471.3,458.4 469.8,458.3 468.3,458.2 466.8,458.1 465.3,458 463.8,457.8 462.3,457.7 460.8,457.6 459.3,457.4 457.8,457.3 456.3,457.2 454.8,457 453.3,456.9 451.8,456.7 450.3,456.6 448.8,456.4 447.3,456.3 445.8,456.1 444.3,456 442.8,455.8 441.3,455.6 439.8,455.5 438.3,455.3 436.8,455.1 435.3,455 433.8,454.8 432.3,454.6 430.8,454.5 429.3,454.3 427.8,454.1 426.3,453.9 424.8,453.7 423.3,453.5 421.8,453.3 420.3,453.1 418.8,452.9 417.3,452.6 415.8,452.4 414.3,452.2 412.8,452 411.3,451.7 409.8,451.5 408.3,451.2 406.8,451 405.3,450.7 403.8,450.4 402.3,450.2 400.8,449.9 399.3,449.6 397.8,449.3 396.3,449 394.8,448.7 393.3,448.4 391.8,448.1 390.3,447.7 388.8,447.4 387.3,447 385.8,446.7 384.3,446.3 382.8,445.9 381.3,445.4 379.8,444.9 378.3,444.3 376.8,443.8 375.3,443.3 373.8,442.8 372.3,442.3 370.8,441.9 369.3,441.4 367.8,440.9 366.3,440.4 364.8,439.9 363.3,439.3 361.8,438.7 360.3,438.1 358.8,437.5 357.3,436.8 355.8,436.1 354.3,435.4 352.8,434.7 351.3,433.9 349.8,433.1 348.3,432.2 346.8,431.3 345.3,430.4 343.8,429.5 342.3,428.5 340.8,427.5 339.3,426.4 337.8,425.3 336.3,424.3 334.8,423.3 333.3,422.4 331.8,421.5 330.3,420.7 328.8,419.8 327.3,418.9 325.8,417.9 324.3,416.7 322.8,415.5 321.3,414.1 319.8,412.6 318.3,411 316.8,409.2 316.3,408.5 315.8,407.8 315.3,407.1 314.8,406.3 314.3,405.4 313.8,404.5 313.3,403.6 312.8,402.5 312.3,401.5 311.8,400.3 311.3,399.1 310.8,397.8 310.3,396.4 309.8,394.9 309.3,393.2 308.8,391.5 308.3,389.7 307.8,387.8 307.3,385.9 306.8,383.9 306.3,381.6 305.8,379.1 305.3,376.5 304.8,373.9 304.3,371.6 303.8,369.5 303.3,367.4 302.8,365.5"/>
<polygon fill="#8f92b7" points="302.8,319 303.3,320.5 303.8,322 304.3,323.4 304.8,324.8 305.3,326.1 305.8,327.4 306.3,328.7 306.8,329.9 307.3,331 307.8,332.2 308.3,333.3 308.8,334.3 309.3,335.3 309.8,336.3 310.3,337.2 310.8,338.1 311.3,339 311.8,339.8 312.3,340.7 312.8,341.4 313.3,342.2 313.8,342.9 314.3,343.6 314.8,344.2 315.3,344.8 315.8,345.4 316.3,346 316.8,346.5 318.3,348 319.8,349.4 321.3,350.7 322.8,351.9 324.3,353.1 325.8,354.3 327.3,355.4 328.8,356.4 330.3,357.4 331.8,358.4 333.3,359.4 334.8,360.4 336.3,361.4 337.8,362.4 339.3,363.4 340.8,364.3 342.3,365.3 343.8,366.2 345.3,367.1 346.8,368 348.3,368.8 349.8,369.6 351.3,370.4 352.8,371.2 354.3,371.9 355.8,372.6 357.3,373.3 358.8,373.9 360.3,374.5 361.8,375.1 363.3,375.7 364.8,376.2 366.3,376.7 367.8,377.2 369.3,377.6 370.8,378 372.3,378.5 373.8,378.9 375.3,379.3 376.8,379.7 378.3,380.1 379.8,380.6 381.3,381 382.8,381.4 384.3,381.8 385.8,382.2 387.3,382.6 388.8,383 390.3,383.4 391.8,383.8 393.3,384.3 394.8,384.7 396.3,385 397.8,385.4 399.3,385.8 400.8,386.2 402.3,386.6 403.8,387 405.3,387.4 406.8,387.8 408.3,388.2 409.8,388.6 411.3,389 412.8,389.4 414.3,389.8 415.8,390.2 417.3,390.6 418.8,391 420.3,391.3 421.8,391.7 423.3,392.1 424.8,392.5 426.3,392.8 427.8,393.1 429.3,393.5 430.8,393.8 432.3,394.1 433.8,394.4 435.3,394.6 436.8,394.9 438.3,395.1 439.8,395.3 441.3,395.6 442.8,395.8 444.3,396 445.8,396.2 447.3,396.4 448.8,396.7 450.3,396.9 451.8,397.1 453.3,397.3 454.8,397.5 456.3,397.7 457.8,397.9 459.3,398.1 460.8,398.2 462.3,398.4 463.8,398.6 465.3,398.8 466.8,398.9 468.3,399.1 469.8,399.2 471.3,399.4 472.8,399.5 474.3,399.7 475.8,399.8 477.3,399.9 478.8,400 480.3,400.1 481.8,400.2 483.3,400.3 484.8,400.4 486.3,400.5 487.8,400.5 489.3,400.6 489.7,400.6 489.7,435.2 489.3,435.2 487.8,435.1 486.3,435.1 484.8,435 483.3,434.9 481.8,434.8 480.3,434.7 478.8,434.6 477.3,434.5 475.8,434.4 474.3,434.3 472.8,434.2 471.3,434 469.8,433.9 468.3,433.8 466.8,433.6 465.3,433.5 463.8,433.4 462.3,433.2 460.8,433.1 459.3,432.9 457.8,432.7 456.3,432.6 454.8,432.4 453.3,432.2 451.8,432.1 450.3,431.9 448.8,431.7 447.3,431.5 445.8,431.3 444.3,431.2 442.8,431 441.3,430.8 439.8,430.6 438.3,430.4 436.8,430.2 435.3,430 433.8,429.8 432.3,429.5 430.8,429.3 429.3,429 427.8,428.7 426.3,428.4 424.8,428.1 423.3,427.8 421.8,427.5 420.3,427.2 418.8,426.9 417.3,426.6 415.8,426.3 414.3,426 412.8,425.6 411.3,425.3 409.8,425 408.3,424.7 406.8,424.4 405.3,424.1 403.8,423.9 402.3,423.6 400.8,423.3 399.3,423.1 397.8,422.9 396.3,422.7 394.8,422.4 393.3,422.2 391.8,422 390.3,421.8 388.8,421.6 387.3,421.4 385.8,421.1 384.3,420.9 382.8,420.6 381.3,420.2 379.8,419.9 378.3,419.5 376.8,419.1 375.3,418.7 373.8,418.3 372.3,417.9 370.8,417.5 369.3,417 367.8,416.6 366.3,416.1 364.8,415.6 363.3,415.1 361.8,414.5 360.3,414 358.8,413.4 357.3,412.7 355.8,412.1 354.3,411.4 352.8,410.7 351.3,410 349.8,409.2 348.3,408.4 346.8,407.6 345.3,406.7 343.8,405.8 342.3,404.8 340.8,403.8 339.3,402.8 337.8,401.7 336.3,400.6 334.8,399.7 333.3,398.8 331.8,398 330.3,397.2 328.8,396.3 327.3,395.5 325.8,394.5 324.3,393.4 322.8,392.3 321.3,391 319.8,389.6 318.3,388 316.8,385.9 316.3,385.1 315.8,384.3 315.3,383.4 314.8,382.5 314.3,381.6 313.8,380.7 313.3,379.8 312.8,378.9 312.3,377.9 311.8,376.9 311.3,375.8 310.8,374.7 310.3,373.5 309.8,372.2 309.3,370.8 308.8,369.4 308.3,367.9 307.8,366.3 307.3,364.8 306.8,363.2 306.3,361.7 305.8,360.1 305.3,358.5 304.8,356.9 304.3,355.3 303.8,353.6 303.3,351.9 302.8,350.2"/>
<polyline fill="none" stroke="#323d73" stroke-width="1.0" stroke-linejoin="round" points="287.6,431.3 301.9,431.3 302.8,332.5 303.3,334.3 303.8,336.1 304.3,337.9 304.8,339.6 305.3,341.3 305.8,342.9 306.3,344.4 306.8,345.9 307.3,347.4 307.8,348.8 308.3,350.2 308.8,351.5 309.3,352.8 309.8,354 310.3,355.2 310.8,356.2 311.3,357.2 311.8,358.2 312.3,359.1 312.8,360 313.3,360.8 313.8,361.6 314.3,362.4 314.8,363.2 315.3,364 315.8,364.7 316.3,365.4 316.8,366.1 318.3,368 319.8,369.6 321.3,371.1 322.8,372.5 324.3,373.7 325.8,374.9 327.3,375.9 328.8,376.8 330.3,377.7 331.8,378.5 333.3,379.4 334.8,380.3 336.3,381.2 337.8,382.2 339.3,383.2 340.8,384.3 342.3,385.3 343.8,386.2 345.3,387.1 346.8,388 348.3,388.9 349.8,389.8 351.3,390.6 352.8,391.4 354.3,392.2 355.8,392.9 357.3,393.6 358.8,394.3 360.3,394.9 361.8,395.5 363.3,396.1 364.8,396.6 366.3,397.1 367.8,397.6 369.3,398.1 370.8,398.5 372.3,398.9 373.8,399.3 375.3,399.7 376.8,400 378.3,400.4 379.8,400.7 381.3,400.9 382.8,401.2 384.3,401.5 385.8,401.7 387.3,402 388.8,402.3 390.3,402.5 391.8,402.8 393.3,403 394.8,403.3 396.3,403.5 397.8,403.8 399.3,404.1 400.8,404.4 402.3,404.6 403.8,404.9 405.3,405.3 406.8,405.6 408.3,405.9 409.8,406.2 411.3,406.6 412.8,406.9 414.3,407.2 415.8,407.6 417.3,407.9 418.8,408.3 420.3,408.6 421.8,409 423.3,409.3 424.8,409.6 426.3,409.9 427.8,410.2 429.3,410.6 430.8,410.8 432.3,411.1 433.8,411.4 435.3,411.6 436.8,411.9 438.3,412.1 439.8,412.3 441.3,412.5 442.8,412.8 444.3,413 445.8,413.2 447.3,413.4 448.8,413.6 450.3,413.8 451.8,414 453.3,414.2 454.8,414.4 456.3,414.6 457.8,414.8 459.3,414.9 460.8,415.1 462.3,415.3 463.8,415.5 465.3,415.6 466.8,415.8 468.3,416 469.8,416.1 471.3,416.3 472.8,416.4 474.3,416.6 475.8,416.7 477.3,416.8 478.8,417 480.3,417.1 481.8,417.2 483.3,417.3 484.8,417.4 486.3,417.5 487.8,417.6 489.3,417.7 489.7,417.7"/>
<rect x="277.5" y="256.5" width="223.4" height="224.4" fill="none" stroke="#2b2b2b" stroke-width="1.4"/>
</g>
<line x1="39.5" x2="42.4" y1="23.6" y2="23.6" stroke="#2b2b2b" stroke-width="0.9"/>
<text class="tk" x="35.9" y="26.3" text-anchor="end">3.0</text>
<line x1="39.5" x2="42.4" y1="108.5" y2="108.5" stroke="#2b2b2b" stroke-width="0.9"/>
<text class="tk" x="35.9" y="111.2" text-anchor="end">1.0</text>
<line x1="39.5" x2="42.4" y1="201.5" y2="201.5" stroke="#2b2b2b" stroke-width="0.9"/>
<text class="tk" x="35.9" y="204.2" text-anchor="end">0.3</text>
<line x1="39.5" x2="42.4" y1="258.9" y2="258.9" stroke="#2b2b2b" stroke-width="0.9"/>
<text class="tk" x="35.9" y="261.6" text-anchor="end">3.0</text>
<line x1="39.5" x2="42.4" y1="343.8" y2="343.8" stroke="#2b2b2b" stroke-width="0.9"/>
<text class="tk" x="35.9" y="346.5" text-anchor="end">1.0</text>
<line x1="39.5" x2="42.4" y1="436.9" y2="436.9" stroke="#2b2b2b" stroke-width="0.9"/>
<text class="tk" x="35.9" y="439.6" text-anchor="end">0.3</text>
<line x1="67.8" x2="67.8" y1="480.5" y2="483.7" stroke="#2b2b2b" stroke-width="0.9"/>
<text class="tk" x="67.8" y="494.1" text-anchor="middle">0</text>
<line x1="106.9" x2="106.9" y1="480.5" y2="483.7" stroke="#2b2b2b" stroke-width="0.9"/>
<text class="tk" x="106.9" y="494.1" text-anchor="middle">5</text>
<line x1="146" x2="146" y1="480.5" y2="483.7" stroke="#2b2b2b" stroke-width="0.9"/>
<text class="tk" x="146" y="494.1" text-anchor="middle">10</text>
<line x1="185.1" x2="185.1" y1="480.5" y2="483.7" stroke="#2b2b2b" stroke-width="0.9"/>
<text class="tk" x="185.1" y="494.1" text-anchor="middle">15</text>
<line x1="224.2" x2="224.2" y1="480.5" y2="483.7" stroke="#2b2b2b" stroke-width="0.9"/>
<text class="tk" x="224.2" y="494.1" text-anchor="middle">20</text>
<line x1="263.3" x2="263.3" y1="480.5" y2="483.7" stroke="#2b2b2b" stroke-width="0.9"/>
<text class="tk" x="263.3" y="494.1" text-anchor="middle">25</text>
<line x1="302.8" x2="302.8" y1="480.9" y2="484.1" stroke="#2b2b2b" stroke-width="0.9"/>
<text class="tk" x="302.8" y="494.1" text-anchor="middle">0</text>
<line x1="341.8" x2="341.8" y1="480.9" y2="484.1" stroke="#2b2b2b" stroke-width="0.9"/>
<text class="tk" x="341.8" y="494.1" text-anchor="middle">5</text>
<line x1="380.8" x2="380.8" y1="480.9" y2="484.1" stroke="#2b2b2b" stroke-width="0.9"/>
<text class="tk" x="380.8" y="494.1" text-anchor="middle">10</text>
<line x1="419.8" x2="419.8" y1="480.9" y2="484.1" stroke="#2b2b2b" stroke-width="0.9"/>
<text class="tk" x="419.8" y="494.1" text-anchor="middle">15</text>
<line x1="458.8" x2="458.8" y1="480.9" y2="484.1" stroke="#2b2b2b" stroke-width="0.9"/>
<text class="tk" x="458.8" y="494.1" text-anchor="middle">20</text>
<line x1="497.8" x2="497.8" y1="480.9" y2="484.1" stroke="#2b2b2b" stroke-width="0.9"/>
<text class="tk" x="497.8" y="494.1" text-anchor="middle">25</text>
<g shape-rendering="crispEdges"><rect x="0" y="0" width="520" height="1" fill="#6b6b6b"/><rect x="0" y="0" width="1" height="517" fill="#6b6b6b"/><rect x="519" y="0" width="1" height="517" fill="#707070"/><rect x="0" y="516" width="520" height="1" fill="#4e4e4e"/><rect x="0" y="0" width="1" height="1" fill="#1c1c1c"/><rect x="519" y="0" width="1" height="1" fill="#2a2a2a"/><rect x="0" y="516" width="1" height="1" fill="#141414"/><rect x="519" y="516" width="1" height="1" fill="#141414"/></g>
<text class="ti" transform="translate(153.7 15.4) scale(1.009 1)" text-anchor="middle">VWF:Ag</text>
<text class="ti" transform="translate(388.5 15.4) scale(0.946 1)" text-anchor="middle">FVIII:C</text>
<text class="st" transform="translate(505.6 134.2) rotate(90)" text-anchor="middle">No null</text>
<text class="st" transform="translate(505.6 369.4) rotate(90)" text-anchor="middle">Null</text>
<text class="ax" style="font-size:9.8px" transform="translate(273 507.4) scale(0.776 1)" text-anchor="middle">Time (h)</text>
<text class="ax ay" transform="translate(18.9 249.0) rotate(-90) scale(0.794 1)" text-anchor="middle">VWF:Ag or FVIII:C levels (IU/mL)</text>
</svg>
</div>
</body>
</html>
